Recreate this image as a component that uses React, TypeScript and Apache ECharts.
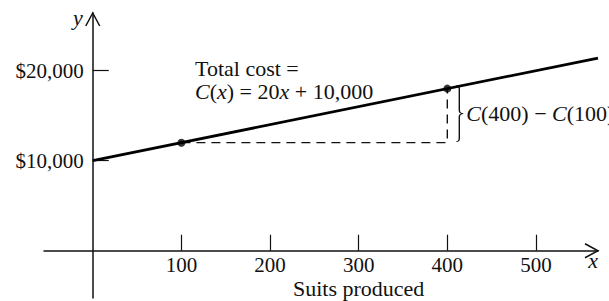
import React, { useEffect, useRef } from 'react';
import * as echarts from 'echarts';

// Data
const lineX = [0, 570];
const lineY = [10000, 21400];
const pointX = [100, 400];
const pointY = [12000, 18000];
const xTicks = [100, 200, 300, 400, 500];
const yTicks = [10000, 20000];
const xRange = [-55, 570];
const yRange = [-5250, 26400];

const FONT = '"Liberation Serif", "Times New Roman", serif';

const W = 609;
const H = 301;
const G = { left: 44, right: 11, top: 13, bottom: 3 };

echarts.graphic.registerShape(
  'brace',
  echarts.graphic.extendPath(
    'M0,0 Q3,0 3,6 L3,44 Q3,50 7,50 Q3,50 3,56 L3,94 Q3,100 0,100',
    {}
  ) as any
);

export default function App() {
  const ref = useRef<HTMLDivElement>(null);
  useEffect(() => {
    document.body.style.margin = '0';
    const chart = echarts.init(ref.current!, null, { renderer: 'svg' });
    const ink = '#111';
    const gw = W - G.left - G.right;
    const gh = H - G.top - G.bottom;
    // distance of the zero lines from the grid edges (layout only)
    const zeroFromLeft = ((0 - xRange[0]) / (xRange[1] - xRange[0])) * gw;
    const zeroFromBottom = ((0 - yRange[0]) / (yRange[1] - yRange[0])) * gh;
    const option: any = {
      animation: false,
      backgroundColor: '#fff',
      grid: { ...G, containLabel: false, outerBoundsMode: 'none' },
      xAxis: {
        type: 'value',
        min: xRange[0],
        max: xRange[1],
        offset: -zeroFromBottom,
        splitLine: { show: false },
        axisLine: { onZero: false, lineStyle: { color: ink, width: 1.5 } },
        axisTick: { show: true, inside: true, length: 16, customValues: xTicks, lineStyle: { color: ink, width: 1.2 } },
        axisLabel: { customValues: xTicks, margin: 4, fontFamily: FONT, fontSize: 21, color: ink },
      },
      yAxis: {
        type: 'value',
        min: yRange[0],
        max: yRange[1],
        offset: -zeroFromLeft,
        splitLine: { show: false },
        axisLine: { onZero: false, lineStyle: { color: ink, width: 1.5 } },
        axisTick: { show: true, inside: true, length: 16, customValues: yTicks, lineStyle: { color: ink, width: 1.2 } },
        axisLabel: {
          customValues: yTicks,
          margin: 9,
          fontFamily: FONT,
          fontSize: 21,
          color: ink,
          formatter: (v: number) => '$' + v.toLocaleString('en-US'),
        },
      },
      series: [
        {
          type: 'line',
          data: lineX.map((x, i) => [x, lineY[i]]),
          showSymbol: false,
          lineStyle: { color: '#000', width: 2.8 },
          z: 4,
        },
        {
          type: 'line',
          data: [
            [pointX[0], pointY[0]],
            [pointX[1], pointY[0]],
            [pointX[1], pointY[1]],
          ],
          showSymbol: false,
          lineStyle: { color: ink, width: 1.4, type: [9, 6] },
          z: 3,
        },
        {
          type: 'scatter',
          data: pointX.map((x, i) => [x, pointY[i]]),
          symbolSize: 8,
          itemStyle: { color: '#000' },
          z: 5,
        },
      ],
    };
    chart.setOption(option);

    const p = (x: number, y: number) => chart.convertToPixel({ gridIndex: 0 }, [x, y]) as number[];
    const xTip = p(xRange[1], 0);
    const yTip = p(0, yRange[1]);
    const pTop = p(pointX[1], pointY[1]);
    const pBot = p(pointX[1], pointY[0]);
    const braceH = pBot[1] - pTop[1] + 2;
    const sp = p(300, 0);
    const arrowStyle = { stroke: ink, lineWidth: 1.5, fill: 'none' };

    chart.setOption({
      graphic: [
        {
          type: 'polyline',
          shape: { points: [[xTip[0] - 13, xTip[1] - 7], [xTip[0], xTip[1]], [xTip[0] - 13, xTip[1] + 7]] },
          style: arrowStyle,
        },
        {
          type: 'polyline',
          shape: { points: [[yTip[0] - 7, yTip[1] + 13], [yTip[0], yTip[1]], [yTip[0] + 7, yTip[1] + 13]] },
          style: arrowStyle,
        },
        {
          type: 'text',
          x: yTip[0] - 15,
          y: yTip[1] + 4,
          style: { text: 'y', fontFamily: FONT, fontSize: 22, fontStyle: 'italic', fill: ink, textAlign: 'center', textVerticalAlign: 'middle' },
        },
        {
          type: 'text',
          x: xTip[0] - 5,
          y: xTip[1] + 10,
          style: { text: 'x', fontFamily: FONT, fontSize: 22, fontStyle: 'italic', fill: ink, textAlign: 'center', textVerticalAlign: 'middle' },
        },
        {
          type: 'text',
          x: sp[0],
          y: sp[1] + 38,
          style: { text: 'Suits produced', fontFamily: FONT, fontSize: 22, fill: ink, textAlign: 'center', textVerticalAlign: 'middle' },
        },
        {
          type: 'text',
          x: 195,
          y: 68,
          style: { text: 'Total cost =', fontFamily: FONT, fontSize: 22, lineHeight: 20, fill: ink, textAlign: 'left', textVerticalAlign: 'middle' },
        },
        {
          type: 'text',
          x: 195,
          y: 91,
          style: {
            text: '{i|C}({i|x}) = 20{i|x} + 10,000',
            fontFamily: FONT,
            fontSize: 22,
            lineHeight: 20,
            fill: ink,
            textAlign: 'left',
            textVerticalAlign: 'middle',
            rich: { i: { fontStyle: 'italic', fontFamily: FONT, fontSize: 22, lineHeight: 20, fill: ink } },
          },
        },
        {
          type: 'brace',
          x: pTop[0] + 9,
          y: pTop[1] - 3,
          scaleX: 1,
          scaleY: braceH / 100,
          style: { fill: 'none', stroke: ink, lineWidth: 1.4 },
        },
        {
          type: 'text',
          x: pTop[0] + 19,
          y: pTop[1] - 3 + braceH / 2,
          style: {
            text: '{i|C}(400) \u2212 {i|C}(100)',
            fontFamily: FONT,
            fontSize: 22,
            fill: ink,
            textAlign: 'left',
            textVerticalAlign: 'middle',
            rich: { i: { fontStyle: 'italic', fontFamily: FONT, fontSize: 22, fill: ink } },
          },
        },
      ],
    });

    return () => chart.dispose();
  }, []);
  return <div ref={ref} style={{ position: 'fixed', left: 0, top: 0, width: W, height: H }} />;
}
